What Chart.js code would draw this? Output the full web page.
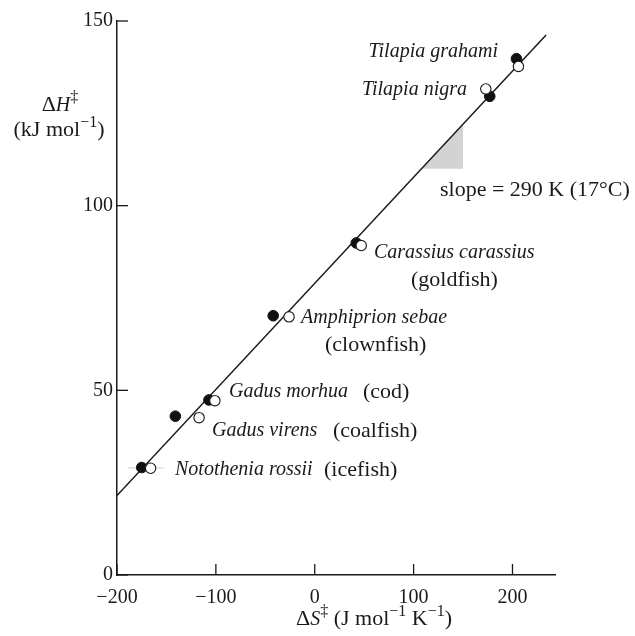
<!DOCTYPE html>
<html lang="en">
<head>
  <meta charset="UTF-8">
  <title>Enthalpy-entropy compensation</title>
  <script src="https://cdn.jsdelivr.net/npm/chart.js"></script>
  <style>
    body { margin: 0; background: #fff; }
    #wrap { width: 635px; height: 636px; }
  </style>
</head>
<body>
  <div id="wrap"><canvas id="chart" width="635" height="636"></canvas></div>
  <script>
    // tick labels
    const xTicks = [-200, -100, 0, 100, 200];
    const yTicks = [0, 50, 100, 150];

    // species (same order for both series)
    const species = ['Tilapia grahami', 'Tilapia nigra', 'Carassius carassius', 'Amphiprion sebae', 'Gadus morhua', 'Gadus virens', 'Notothenia rossii'];
    const commonNames = ['', '', 'goldfish', 'clownfish', 'cod', 'coalfish', 'icefish'];

    // filled circles
    const filledS = [204, 177, 42, -42, -107, -141, -175];
    const filledH = [139.8, 129.6, 89.9, 70.2, 47.4, 43.0, 29.1];
    // open circles
    const openS = [206, 173, 47, -26, -101, -117, -166];
    const openH = [137.7, 131.6, 89.2, 69.9, 47.2, 42.6, 28.9];

    // fitted line, slope triangle, faint bar on icefish
    const fitS = [-200, 234];
    const fitH = [21.5, 146.2];
    const slopeS = [108, 150];
    const slopeH = [110, 122.06];
    const barS = [-189, -152];
    const barH = [29, 29];

    const FONT = "'Liberation Serif', 'DejaVu Serif', serif";
    const INK = '#1a1a1a';
    const ROMAN = 22;
    const ITAL = 20;

    const pts = (xs, ys) => xs.map((x, i) => ({ x: x, y: ys[i] }));

    // text written in pixel space; species labels + common names
    const labels = [
      { parts: [{ t: species[0], it: true }], x: 498, y: 52, align: 'right' },
      { parts: [{ t: species[1], it: true }], x: 467, y: 90, align: 'right' },
      { parts: [{ t: 'slope = 290 K (17°C)' }], x: 440, y: 190 },
      { parts: [{ t: species[2], it: true }], x: 374, y: 253 },
      { parts: [{ t: '(' + commonNames[2] + ')' }], x: 411, y: 280 },
      { parts: [{ t: species[3], it: true }], x: 301, y: 318 },
      { parts: [{ t: '(' + commonNames[3] + ')' }], x: 325, y: 345 },
      { parts: [{ t: species[4], it: true }], x: 229, y: 392 },
      { parts: [{ t: '(' + commonNames[4] + ')' }], x: 363, y: 392 },
      { parts: [{ t: species[5], it: true }], x: 212, y: 431 },
      { parts: [{ t: '(' + commonNames[5] + ')' }], x: 333, y: 431 },
      { parts: [{ t: species[6], it: true }], x: 175, y: 470 },
      { parts: [{ t: '(' + commonNames[6] + ')' }], x: 324, y: 470 }
    ];

    function partFont(p, size) {
      const base = p.it ? ITAL : size;
      const s = p.sup ? Math.round(size * 0.72) : base;
      return (p.it ? 'italic ' : '') + s + 'px ' + FONT;
    }

    function drawRich(ctx, parts, x, y, align, size, baseline) {
      let w = 0;
      parts.forEach(p => { ctx.font = partFont(p, size); w += ctx.measureText(p.t).width; });
      let cx = align === 'right' ? x - w : align === 'center' ? x - w / 2 : x;
      ctx.textBaseline = baseline || 'middle';
      ctx.textAlign = 'left';
      parts.forEach(p => {
        ctx.font = partFont(p, size);
        ctx.fillText(p.t, cx, p.sup ? y - size * 0.4 : y);
        cx += ctx.measureText(p.t).width;
      });
    }

    const extras = {
      id: 'extras',
      afterDraw(chart) {
        const ctx = chart.ctx;
        const xs = chart.scales.x, ys = chart.scales.y;
        const a = chart.chartArea;
        ctx.save();
        // inward ticks
        ctx.strokeStyle = INK;
        ctx.lineWidth = 1.3;
        xTicks.forEach(v => {
          const px = xs.getPixelForValue(v);
          ctx.beginPath(); ctx.moveTo(px, a.bottom); ctx.lineTo(px, a.bottom - 11); ctx.stroke();
        });
        yTicks.forEach(v => {
          const py = ys.getPixelForValue(v);
          ctx.beginPath(); ctx.moveTo(a.left, py); ctx.lineTo(a.left + 11, py); ctx.stroke();
        });
        ctx.fillStyle = INK;
        // axis titles
        drawRich(ctx, [{ t: 'Δ' }, { t: 'H', it: true }, { t: '‡', sup: true }], 60, 111, 'center', ROMAN, 'alphabetic');
        drawRich(ctx, [{ t: '(kJ mol' }, { t: '−1', sup: true }, { t: ')' }], 59, 136, 'center', ROMAN, 'alphabetic');
        drawRich(ctx, [{ t: 'Δ' }, { t: 'S', it: true }, { t: '‡', sup: true }, { t: ' (J mol' }, { t: '−1', sup: true }, { t: ' K' }, { t: '−1', sup: true }, { t: ')' }], 374, 625, 'center', ROMAN, 'alphabetic');
        // annotations
        labels.forEach(l => drawRich(ctx, l.parts, l.x, l.y, l.align || 'left', ROMAN));
        ctx.restore();
      }
    };

    new Chart(document.getElementById('chart'), {
      type: 'scatter',
      data: {
        datasets: [
          {
            type: 'line', data: pts(slopeS, slopeH), borderWidth: 0, pointRadius: 0,
            fill: { value: 110 }, backgroundColor: '#d3d3d3', order: 5
          },
          {
            type: 'line', data: pts(barS, barH), borderColor: '#dddddd', borderWidth: 1.2, pointRadius: 0, order: 4
          },
          {
            type: 'line', data: pts(fitS, fitH), borderColor: INK, borderWidth: 1.5, pointRadius: 0, order: 3
          },
          {
            label: 'filled', data: pts(filledS, filledH), pointRadius: 5.3,
            pointBackgroundColor: '#111', pointBorderColor: '#111', pointBorderWidth: 1, order: 2
          },
          {
            label: 'open', data: pts(openS, openH), pointRadius: 5.2,
            pointBackgroundColor: '#fff', pointBorderColor: INK, pointBorderWidth: 1.1, order: 1
          }
        ]
      },
      options: {
        responsive: false,
        animation: false,
        layout: { padding: { top: 21, right: 80, left: 0, bottom: 0 } },
        plugins: { legend: { display: false }, tooltip: { enabled: false } },
        scales: {
          x: {
            type: 'linear', min: -200, max: 243,
            grid: { display: false, drawTicks: false },
            border: { display: true, color: INK, width: 1.5 },
            afterBuildTicks: s => { s.ticks = xTicks.map(v => ({ value: v })); },
            afterFit: s => { s.height = 61; },
            ticks: {
              padding: 11, color: INK, font: { family: FONT, size: 20 },
              callback: v => String(v).replace('-', '−')
            }
          },
          y: {
            type: 'linear', min: 0, max: 150,
            grid: { display: false, drawTicks: false },
            border: { display: true, color: INK, width: 1.5 },
            afterBuildTicks: s => { s.ticks = yTicks.map(v => ({ value: v })); },
            afterFit: s => { s.width = 117; },
            ticks: { padding: 4, color: INK, font: { family: FONT, size: 20 } }
          }
        }
      },
      plugins: [extras]
    });
  </script>
</body>
</html>
